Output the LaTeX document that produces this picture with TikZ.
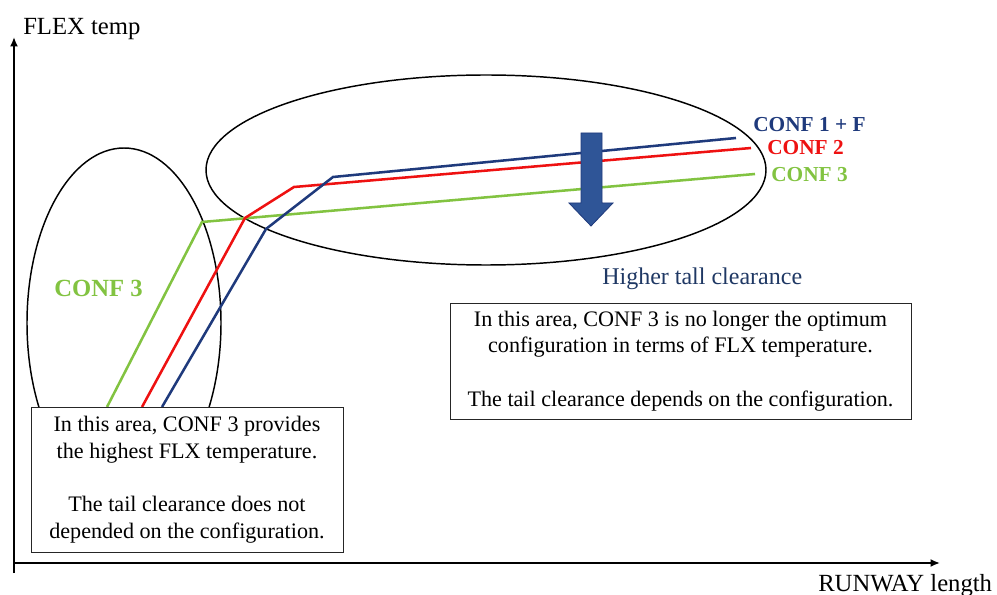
\documentclass[tikz,border=0pt]{standalone}
\usepackage{fontspec}
\setmainfont{Liberation Serif}
\usetikzlibrary{arrows.meta}
\usetikzlibrary{shapes}
\definecolor{confblue}{HTML}{1F3A7C}
\definecolor{confred}{HTML}{EE1111}
\definecolor{confgreen}{HTML}{82C341}
\definecolor{arrowblue}{HTML}{2F5597}
\definecolor{textblue}{HTML}{1F3864}
\tikzset{
        % Axes of the chart
        axis/.style={-{Latex[length=7pt, width=6pt]}, line width=1.5pt, black},
        axis_title/.style={anchor=base west, inner sep=0pt, font=\fontsize{18.5pt}{22pt}\selectfont},
        % Curves, one per configuration
        curve/.style={line width=1.9pt, line join=miter},
        curve_conf1/.style={curve, confblue},
        curve_conf2/.style={curve, confred},
        curve_conf3/.style={curve, confgreen},
        % Ellipses round the two areas
        area_ellipse/.style={ellipse, draw=black, line width=1.1pt, inner sep=0pt},
        % Boxes with the notes
        note_box/.style={rectangle, draw=black!85, fill=white, line width=0.7pt, align=center, font=\fontsize{16.6pt}{20pt}\selectfont},
        % Curve labels
        conf_label/.style={anchor=base west, inner sep=0pt, font=\bfseries\fontsize{16pt}{19pt}\selectfont}
}
\begin{document}
\begin{tikzpicture}[x=0.75pt, y=-0.75pt]
            \useasboundingbox (0,0) rectangle (997,595);
            % axes
            \coordinate (y_bottom) at (14,573);
            \coordinate (y_top) at (14,37);
            \coordinate (x_left) at (14,563);
            \coordinate (x_right) at (940,563);
            \draw[axis] (y_bottom) -- (y_top);
            \draw[axis] (x_left) -- (x_right);
            \node[axis_title] (flex) at (23,35) {FLEX temp};
            \node[axis_title] (runway) at (818,591) {RUNWAY length};
            % areas
            \node[area_ellipse, minimum width=145.5pt, minimum height=262.5pt] (area_low) at (124,323) {};
            \node[area_ellipse, minimum width=420pt, minimum height=142.5pt] (area_high) at (486,170) {};
            % curves
            \draw[curve_conf3] (107,407) -- (202,222) -- (755,174);
            \draw[curve_conf2] (142,407) -- (245,218) -- (294,187) -- (751,148);
            \draw[curve_conf1] (162,407) -- (266,229) -- (333,177) -- (736,138);
            % arrow down
            \draw[fill=arrowblue, draw=confblue, line width=0.6pt] (581,133) -- (602,133) -- (602,203) -- (613,203)
                -- (591,226) -- (569,203) -- (581,203) -- cycle;
            % labels
            \node[conf_label, text=confblue] (lab_conf1) at (753,132) {CONF 1 + F};
            \node[conf_label, text=confred] (lab_conf2) at (767,155) {CONF 2};
            \node[conf_label, text=confgreen] (lab_conf3) at (771,182) {CONF 3};
            \node[conf_label, text=confgreen, font=\bfseries\fontsize{18.5pt}{22pt}\selectfont] (lab_low) at (54,297) {CONF 3};
            \node[anchor=base west, inner sep=0pt, text=textblue, font=\fontsize{18pt}{21pt}\selectfont] (higher) at (602,285) {Higher tall clearance};
            % notes
            \node[note_box, minimum width=234pt, minimum height=108.75pt] (note_low) at (187,479.5)
                {In this area, CONF 3 provides\\the highest FLX temperature.\\[20pt]The tail clearance does not\\depended on the configuration.};
            \node[note_box, minimum width=345.75pt, minimum height=87pt] (note_high) at (680.5,361)
                {In this area, CONF 3 is no longer the optimum\\configuration in terms of FLX temperature.\\[20pt]The tail clearance depends on the configuration.};
\end{tikzpicture}
\end{document}
